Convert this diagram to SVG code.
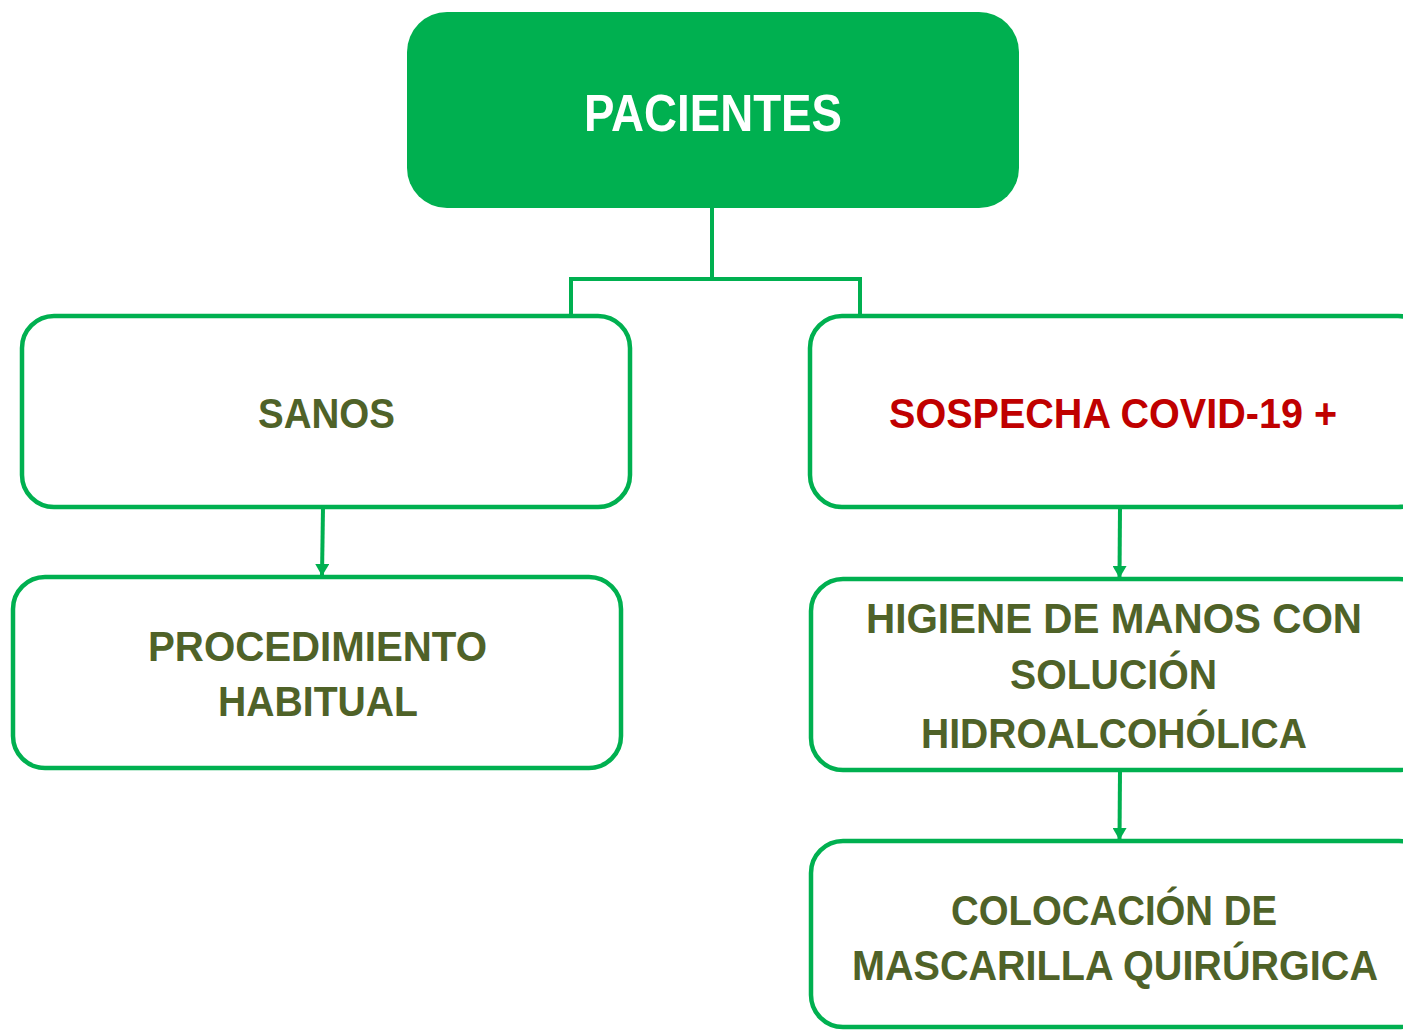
<svg xmlns="http://www.w3.org/2000/svg" width="1403" height="1030" viewBox="0 0 1403 1030">
<style>
  .box { fill: #FFFFFF; stroke: #00B050; stroke-width: 4.5; }
  .top { fill: #00B050; }
  .t { font-family: "Liberation Sans", Arial, sans-serif; font-weight: bold; font-size: 42px; text-anchor: middle; fill: #4F6228; }
  .red { fill: #C00000; }
  .white { fill: #FFFFFF; font-size: 52px; }
  .con { fill: none; stroke: #00B050; stroke-width: 4; }
</style>
<defs>
  <marker id="arr" viewBox="0 0 12 14" refX="12" refY="7" markerWidth="12" markerHeight="14" markerUnits="userSpaceOnUse" orient="auto">
    <path d="M0,0 L12,7 L0,14 Z" fill="#00B050"/>
  </marker>
</defs>
<rect width="1403" height="1030" fill="#FFFFFF"/>
<g id="connectors">
  <path class="con" d="M712,208 V279 M571,315 V279 H860 V315"/>
  <path class="con" d="M323,507 L322,576" marker-end="url(#arr)"/>
  <path class="con" d="M1120,507 L1119.5,578" marker-end="url(#arr)"/>
  <path class="con" d="M1120,770 L1119.5,840" marker-end="url(#arr)"/>
</g>
<g id="pacientes">
  <rect class="top" x="407" y="12" width="612" height="196" rx="40" ry="40"/>
  <text class="t white" x="713" y="131" textLength="258" lengthAdjust="spacingAndGlyphs">PACIENTES</text>
</g>
<g id="sanos">
  <rect class="box" x="22" y="316" width="608" height="191" rx="32" ry="32"/>
  <text class="t" x="326.5" y="428" textLength="137" lengthAdjust="spacingAndGlyphs">SANOS</text>
</g>
<g id="sospecha">
  <rect class="box" x="810" y="316" width="620" height="191" rx="32" ry="32"/>
  <text class="t red" x="1113" y="428" textLength="448" lengthAdjust="spacingAndGlyphs">SOSPECHA COVID-19 +</text>
</g>
<g id="procedimiento">
  <rect class="box" x="13" y="577" width="608" height="191" rx="32" ry="32"/>
  <text class="t" x="317.5" y="661" textLength="339" lengthAdjust="spacingAndGlyphs">PROCEDIMIENTO</text>
  <text class="t" x="318" y="716" textLength="200" lengthAdjust="spacingAndGlyphs">HABITUAL</text>
</g>
<g id="higiene">
  <rect class="box" x="811" y="579" width="620" height="191" rx="32" ry="32"/>
  <text class="t" x="1114" y="633" textLength="496" lengthAdjust="spacingAndGlyphs">HIGIENE DE MANOS CON</text>
  <text class="t" x="1113.5" y="689" textLength="207" lengthAdjust="spacingAndGlyphs">SOLUCIÓN</text>
  <text class="t" x="1114" y="748" textLength="386" lengthAdjust="spacingAndGlyphs">HIDROALCOHÓLICA</text>
</g>
<g id="colocacion">
  <rect class="box" x="811" y="841" width="620" height="186" rx="32" ry="32"/>
  <text class="t" x="1114" y="925" textLength="326" lengthAdjust="spacingAndGlyphs">COLOCACIÓN DE</text>
  <text class="t" x="1115" y="980" textLength="526" lengthAdjust="spacingAndGlyphs">MASCARILLA QUIRÚRGICA</text>
</g>
</svg>
